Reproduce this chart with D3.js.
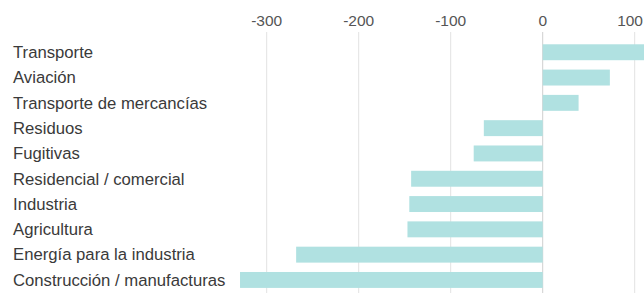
<!DOCTYPE html>
<html>
<head>
<meta charset="utf-8">
<script src="https://cdn.jsdelivr.net/npm/d3@7"></script>
<style>
  body { margin: 0; background: #fff; }
  text { font-family: "Liberation Sans", Arial, sans-serif; }
</style>
</head>
<body>
<div id="chart-area"></div>
<script>
// sectores y valores
var categories = ["Transporte", "Aviación", "Transporte de mercancías", "Residuos", "Fugitivas",
  "Residencial / comercial", "Industria", "Agricultura", "Energía para la industria",
  "Construcción / manufacturas"];
var values = [112, 73, 39, -64, -75, -143, -145, -147, -268, -329];
var ticks = [-300, -200, -100, 0, 100];

var width = 644, height = 293;

var svg = d3.select("#chart-area")
    .append("svg")
    .attr("width", width)
    .attr("height", height);

// escala x: -300 -> 266.7px, 100 -> 634.7px
var x = d3.scaleLinear()
    .domain([-300, 100])
    .range([266.7, 634.7]);

var y = d3.scaleBand()
    .domain(categories)
    .range([39.6, 292.6])
    .paddingInner(0.37)
    .paddingOuter(0.185);

// lineas de la cuadricula
svg.selectAll("line.grid")
    .data(ticks)
    .enter()
    .append("line")
    .attr("class", "grid")
    .attr("x1", d => x(d))
    .attr("x2", d => x(d))
    .attr("y1", 32)
    .attr("y2", height)
    .attr("stroke", d => d === 0 ? "#cfcfcf" : "#e2e2e2")
    .attr("stroke-width", 1);

// etiquetas del eje (la ultima pegada al borde derecho)
svg.selectAll("text.tick")
    .data(ticks)
    .enter()
    .append("text")
    .attr("class", "tick")
    .attr("x", (d, i) => i === ticks.length - 1 ? width - 1 : x(d))
    .attr("y", 26)
    .attr("text-anchor", (d, i) => i === ticks.length - 1 ? "end" : "middle")
    .attr("font-size", 15.5)
    .attr("fill", "#555")
    .text(d => d);

// barras
var data = categories.map((c, i) => ({ name: c, value: values[i] }));

svg.selectAll("rect")
    .data(data)
    .enter()
    .append("rect")
    .attr("x", d => x(Math.min(0, d.value)))
    .attr("y", d => y(d.name))
    .attr("width", d => Math.abs(x(d.value) - x(0)))
    .attr("height", y.bandwidth())
    .attr("fill", "#b0e1e1");

// nombres de las categorias
svg.selectAll("text.label")
    .data(data)
    .enter()
    .append("text")
    .attr("class", "label")
    .attr("x", 13)
    .attr("y", d => y(d.name) + y.bandwidth() / 2 + 5.8)
    .attr("font-size", 16.7)
    .attr("fill", "#3a3a3a")
    .text(d => d.name);
</script>
</body>
</html>
